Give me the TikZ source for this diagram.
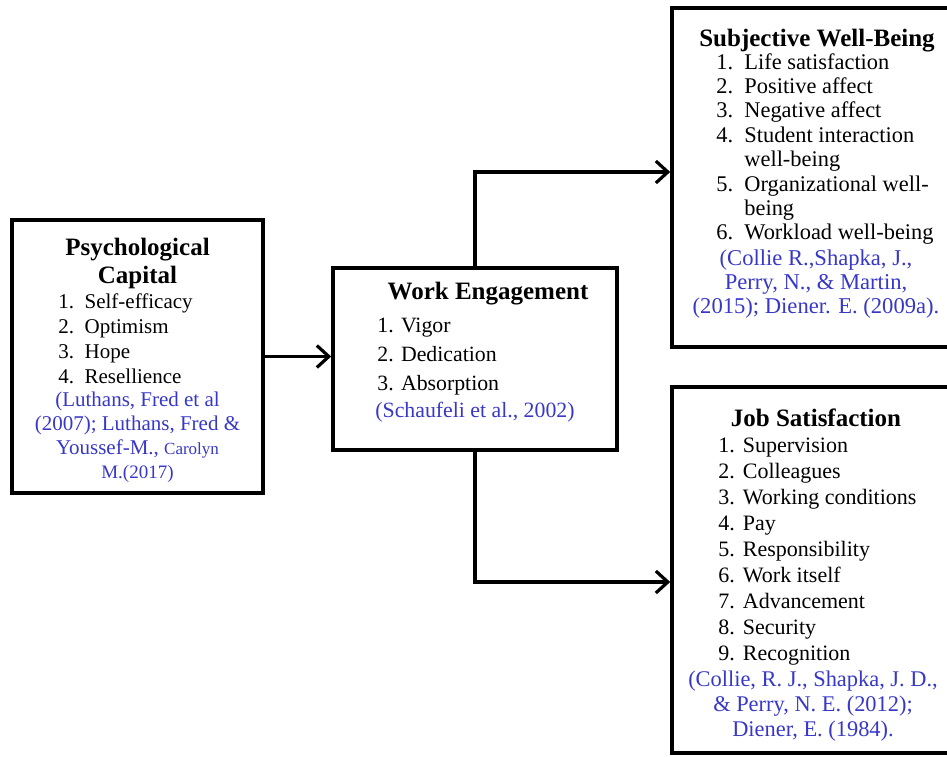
\documentclass[tikz,border=0pt]{standalone}
\usepackage{fontspec}
\setmainfont{Liberation Serif}
\usepackage{xcolor}
\usepackage{tikz}
\usetikzlibrary{arrows.meta,positioning}
\definecolor{citeblue}{RGB}{55,55,200}

\begin{document}
\begin{tikzpicture}[x=0.5pt,y=-0.5pt,>={Straight Barb[length=6pt,width=11pt]},
  box/.style={draw,line width=1.8pt,inner sep=0pt},
  head/.style={font=\fontsize{12.5}{14}\selectfont\bfseries,align=center,inner sep=0pt,anchor=north},
  items/.style={align=left,inner sep=0pt,anchor=north west},
  cite/.style={text=citeblue,align=center,inner sep=0pt},
  link/.style={->,line width=1.6pt}]
\useasboundingbox (0,0) rectangle (947,756);
\clip (0,0) rectangle (947,756);
% boxes
\node[box,minimum width=125.5pt,minimum height=136.5pt] (pc) at (137.5,356.5) {};
\node[box,minimum width=142pt,minimum height=91pt] (we) at (475,359) {};
\node[box,minimum width=145pt,minimum height=169.5pt] (swb) at (817,177.5) {};
\node[box,minimum width=145pt,minimum height=183pt] (js) at (817,570) {};
% psychological capital
\node[head] (pctitle) at (137.5,238) {Psychological\\Capital};
\node[items,font=\fontsize{10.5}{12.5}\selectfont] (pclist) at (58,293)
  {1.\enspace Self-efficacy\\2.\enspace Optimism\\3.\enspace Hope\\4.\enspace Resellience};
\node[cite,anchor=north,font=\fontsize{10.5}{12}\selectfont] (pccite) at (137.5,392)
  {(Luthans, Fred et al\\(2007); Luthans, Fred \&\\Youssef-M., {\fontsize{8.5}{12}\selectfont Carolyn}\\{\fontsize{9.5}{11.5}\selectfont M.(2017)}};
% work engagement
\node[head] (wetitle) at (488,282) {Work Engagement};
\node[items,font=\fontsize{10.9}{14.5}\selectfont] (welist) at (377,318)
  {1. Vigor\\2. Dedication\\3. Absorption};
\node[cite,anchor=north west,font=\fontsize{10.9}{13}\selectfont] (wecite) at (375,402)
  {(Schaufeli et al., 2002)};
% subjective well-being
\node[head] (swbtitle) at (817,29) {Subjective Well-Being};
\node[items,font=\fontsize{11.2}{12.2}\selectfont] (swblist) at (716,53)
  {1.\enspace Life satisfaction\\2.\enspace Positive affect\\3.\enspace Negative affect\\
   4.\enspace Student interaction\\\hphantom{4.\enspace}well-being\\
   5.\enspace Organizational well-\\\hphantom{5.\enspace}being\\6.\enspace Workload well-being};
\node[cite,anchor=north,font=\fontsize{11.3}{12.2}\selectfont] (swbcite) at (816,249)
  {(Collie R.,Shapka, J.,\\Perry, N., \& Martin,\\(2015); Diener. E. (2009a).};
% job satisfaction
\node[head] (jstitle) at (816,408) {Job Satisfaction};
\node[items,font=\fontsize{11}{13}\selectfont] (jslist) at (718,438)
  {1.\hspace{4pt}Supervision\\2.\hspace{4pt}Colleagues\\3.\hspace{4pt}Working conditions\\
   4.\hspace{4pt}Pay\\5.\hspace{4pt}Responsibility\\6.\hspace{4pt}Work itself\\
   7.\hspace{4pt}Advancement\\8.\hspace{4pt}Security\\9.\hspace{4pt}Recognition};
\node[cite,anchor=north,font=\fontsize{11.2}{12.5}\selectfont] (jscite) at (813,671)
  {(Collie, R. J., Shapka, J. D.,\\\& Perry, N. E. (2012);\\Diener, E. (1984).};
% connectors
\draw[link] (pc.east) -- (pc.east -| we.west);
\draw[link] (we.north) |- ([yshift=2.75pt]swb.west);
\draw[link] (we.south) |- ([yshift=-6pt]js.west);
\end{tikzpicture}
\end{document}
